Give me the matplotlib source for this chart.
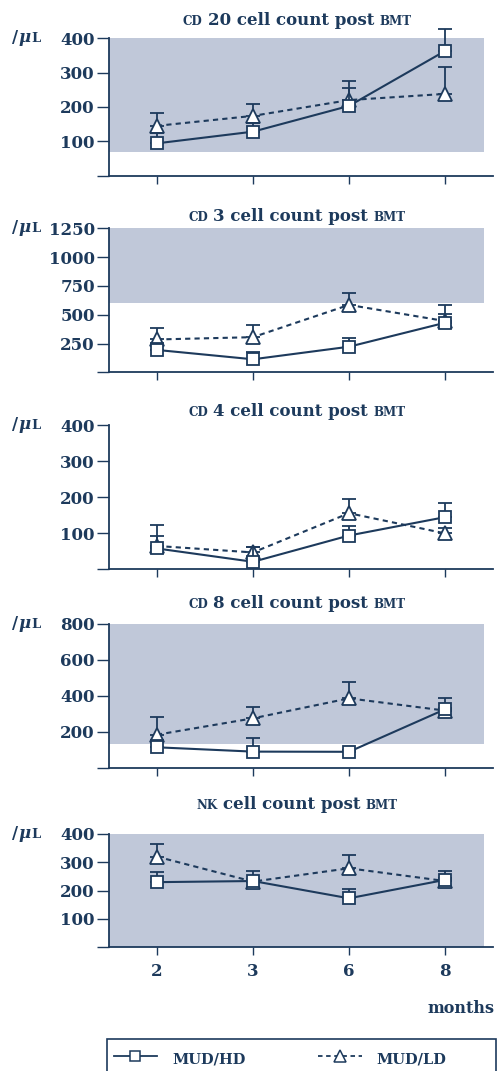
import matplotlib
matplotlib.use("Agg")
import matplotlib.pyplot as plt
from matplotlib.lines import Line2D
from matplotlib.patches import Rectangle

plt.rcParams['font.family'] = ['DejaVu Serif']
plt.rcParams['font.weight'] = 'bold'

NAVY = '#1d3a5c'
BAND = '#c0c8d9'

months = ['2', '3', '6', '8']

# CD 20
cd20_hd = [94, 128, 203, 363]
cd20_hd_err = [29, 24, 51, 64]
cd20_ld = [145, 174, 220, 238]
cd20_ld_err = [37, 35, 56, 77]

# CD 3
cd3_hd = [194, 113, 222, 430]
cd3_hd_err = [60, 66, 78, 76]
cd3_ld = [285, 305, 585, 445]
cd3_ld_err = [102, 108, 106, 140]

# CD 4
cd4_hd = [57, 20, 93, 144]
cd4_hd_err = [35, 40, 26, 40]
cd4_ld = [64, 46, 155, 99]
cd4_ld_err = [58, 14, 39, 16]

# CD 8
cd8_hd = [115, 91, 90, 326]
cd8_hd_err = [40, 77, 10, 61]
cd8_ld = [185, 276, 387, 319]
cd8_ld_err = [96, 65, 89, 15]

# NK
nk_hd = [230, 234, 173, 238]
nk_hd_err = [35, 35, 34, 32]
nk_ld = [320, 232, 279, 234]
nk_ld_err = [45, 10, 46, 10]

# normal ranges (shaded)
bands = [(70, 400), (600, 1250), None, (133, 800), (0, 400)]
yticks = [[0, 100, 200, 300, 400],
          [0, 250, 500, 750, 1000, 1250],
          [0, 100, 200, 300, 400],
          [0, 200, 400, 600, 800],
          [0, 100, 200, 300, 400]]
SC, BIG = 8.6, 12
titles = [[('CD', SC, 0), ('20 cell count post', BIG, 5), ('BMT', SC, 5)],
          [('CD', SC, 0), ('3 cell count post', BIG, 5), ('BMT', SC, 5)],
          [('CD', SC, 0), ('4 cell count post', BIG, 5), ('BMT', SC, 5)],
          [('CD', SC, 0), ('8 cell count post', BIG, 5), ('BMT', SC, 5)],
          [('NK', SC, 0), ('cell count post', BIG, 5), ('BMT', SC, 5)]]

panels = [(cd20_hd, cd20_hd_err, cd20_ld, cd20_ld_err),
          (cd3_hd, cd3_hd_err, cd3_ld, cd3_ld_err),
          (cd4_hd, cd4_hd_err, cd4_ld, cd4_ld_err),
          (cd8_hd, cd8_hd_err, cd8_ld, cd8_ld_err),
          (nk_hd, nk_hd_err, nk_ld, nk_ld_err)]

# pixel layout: (axes top, axes bottom, title baseline)
W, H = 500, 1071
rows = [(38.3, 175.6, 25), (228.3, 372.3, 221.5), (425, 569, 416.5),
        (624, 768, 608), (834, 947.3, 809)]

fig = plt.figure(figsize=(W / 100, H / 100), dpi=100)
renderer = fig.canvas.get_renderer()


def pieces_text(xp, y, pieces, center=True):
    # text made of parts of different size (fake small caps)
    texts = []
    for s, size, gap, *style in pieces:
        t = fig.text(0, 1 - y / H, s, fontsize=size, color=NAVY,
                     va='baseline', ha='left',
                     style=style[0] if style else 'normal')
        texts.append(t)
    widths = [t.get_window_extent(renderer).width for t in texts]
    total = sum(widths) + sum(p[2] for p in pieces)
    x = xp - total / 2 if center else xp
    for t, w, p in zip(texts, widths, pieces):
        x += p[2]
        t.set_x(x / W)
        x += w


x = list(range(len(months)))
for i, (hd, hd_err, ld, ld_err) in enumerate(panels):
    top, bot, tb = rows[i]
    ax = fig.add_axes([109 / W, 1 - bot / H, 384 / W, (bot - top) / H])
    ax.set_xlim(-0.5, 3.5)
    ax.set_ylim(yticks[i][0], yticks[i][-1])
    if bands[i] is not None:
        ax.axhspan(bands[i][0], bands[i][1], xmin=0, xmax=0.977,
                   color=BAND, lw=0, zorder=0)

    eb1 = ax.errorbar(x, ld, yerr=[[0] * 4, ld_err], color=NAVY, lw=1.5,
                      ls=(0, (2.5, 2)), marker='^', ms=10.5, mfc='white',
                      mec=NAVY, mew=1.3, ecolor=NAVY, elinewidth=1.3,
                      capsize=5, capthick=1.3, zorder=3)
    eb2 = ax.errorbar(x, hd, yerr=[[0] * 4, hd_err], color=NAVY, lw=1.5,
                      ls='-', marker='s', ms=8, mfc='white', mec=NAVY,
                      mew=1.3, ecolor=NAVY, elinewidth=1.3, capsize=5,
                      capthick=1.3, zorder=4)
    for eb in (eb1, eb2):
        for a in eb.get_children():
            a.set_clip_on(False)

    for s in ['top', 'right']:
        ax.spines[s].set_visible(False)
    for s in ['left', 'bottom']:
        ax.spines[s].set_color(NAVY)
        ax.spines[s].set_linewidth(1.3)
    ax.set_yticks(yticks[i])
    ax.set_yticklabels([''] + [str(v) for v in yticks[i][1:]])
    ax.tick_params(axis='y', length=8.6, width=1.0, color=NAVY, pad=1.5,
                   labelsize=12, labelcolor=NAVY)
    ax.set_xticks(x)
    if i == len(panels) - 1:
        ax.set_xticklabels(months)
    else:
        ax.set_xticklabels([])
    ax.tick_params(axis='x', length=5.8, width=1.0, color=NAVY, pad=5.5,
                   labelsize=12, labelcolor=NAVY)

    pieces_text(297, tb, titles[i])
    # unit label
    pieces_text(12, top + 4, [('/', 12, 0), ('μ', 12, 0.5, 'italic'),
                              ('L', 9.4, 1)], center=False)

fig.text(495 / W, 1 - 1013 / H, 'months', fontsize=11.5, color=NAVY,
         ha='right', va='baseline')

handles = [Line2D([], [], color=NAVY, lw=1.3, marker='s', ms=7, mfc='white',
                  mec=NAVY, mew=1.1),
           Line2D([], [], color=NAVY, lw=1.3, ls=(0, (2.5, 2)), marker='^',
                  ms=8, mfc='white', mec=NAVY, mew=1.1)]
leg = fig.legend(handles, ['MUD/HD', 'MUD/LD'], loc='upper left',
                 bbox_to_anchor=(107 / W, 1 - 1041 / H), ncol=2,
                 frameon=False, borderpad=0.45, handlelength=3.0,
                 handleheight=2.0, handletextpad=1.0, columnspacing=5.0,
                 prop={'size': 10.5, 'weight': 'bold'}, labelcolor=NAVY,
                 borderaxespad=0)
fig.patches.append(Rectangle((107 / W, 1 - 1085 / H), 389 / W, 46 / H,
                             transform=fig.transFigure, fill=False,
                             edgecolor=NAVY, lw=1.2))

fig.savefig('out.png', dpi=100)
